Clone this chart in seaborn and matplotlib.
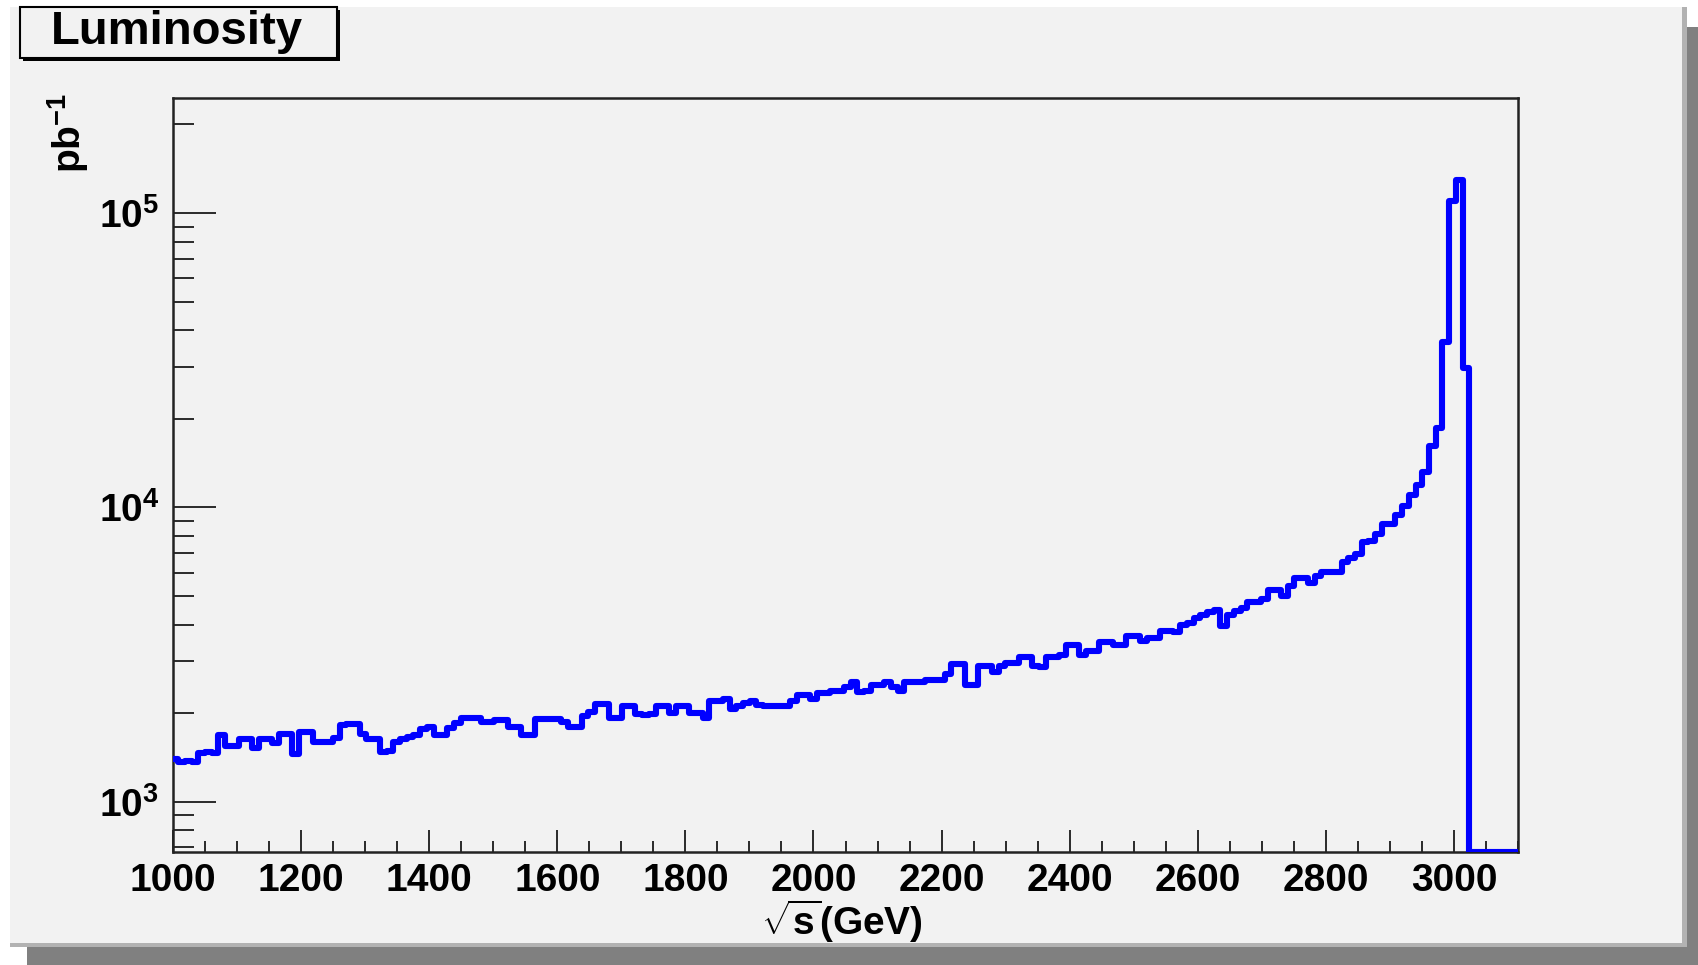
import numpy as np
import matplotlib
matplotlib.use("Agg")
import matplotlib.pyplot as plt
from matplotlib.patches import Rectangle
from matplotlib.ticker import FixedLocator, FixedFormatter, LogLocator, MultipleLocator, NullFormatter
import seaborn as sns

# ---- histogram definition -------------------------------------------------
bin_width = 10.5          # GeV
first_edge = 997.5        # GeV, lower edge of the first bin
# integrated luminosity per bin (pb^-1)
lumi = [
    1400, 1370, 1380, 1370, 1470, 1480, 1470, 1680, 1550, 1550,
    1640, 1640, 1520, 1640, 1640, 1580, 1700, 1700, 1450, 1720,
    1720, 1590, 1590, 1600, 1650, 1830, 1840, 1840, 1700, 1640,
    1640, 1480, 1490, 1590, 1640, 1660, 1680, 1760, 1800, 1680,
    1680, 1780, 1850, 1920, 1920, 1920, 1870, 1870, 1890, 1890,
    1790, 1800, 1680, 1690, 1910, 1910, 1910, 1910, 1860, 1800,
    1800, 1950, 2025, 2150, 2150, 1930, 1930, 2110, 2110, 1990,
    1970, 1990, 2110, 2110, 2010, 2110, 2110, 2010, 2010, 1930,
    2200, 2200, 2240, 2060, 2120, 2170, 2200, 2140, 2110, 2110,
    2110, 2110, 2200, 2300, 2300, 2240, 2340, 2340, 2380, 2380,
    2450, 2560, 2360, 2370, 2500, 2500, 2550, 2450, 2380, 2560,
    2560, 2560, 2600, 2600, 2600, 2720, 2935, 2935, 2500, 2500,
    2890, 2890, 2770, 2890, 2970, 2970, 3100, 3100, 2890, 2870,
    3100, 3100, 3160, 3420, 3420, 3140, 3240, 3240, 3500, 3500,
    3420, 3420, 3660, 3660, 3530, 3600, 3600, 3810, 3810, 3760,
    4000, 4050, 4200, 4300, 4400, 4490, 3970, 4320, 4460, 4550,
    4760, 4760, 4890, 5250, 5250, 5020, 5400, 5750, 5750, 5550,
    5840, 6050, 6050, 6050, 6550, 6720, 6960, 7600, 7700, 8150,
    8750, 8800, 9390, 10150, 10980, 11870, 13180, 16230, 18630, 36400,
    109500, 130000, 29800, 0, 0, 0, 0, 0, 0, 0,
    0,
]

x_major = [1000, 1200, 1400, 1600, 1800, 2000, 2200, 2400, 2600, 2800, 3000]
y_major = [1e3, 1e4, 1e5]
y_major_labels = [r"$\mathbf{10^{3}}$", r"$\mathbf{10^{4}}$", r"$\mathbf{10^{5}}$"]

x_range = (1000, 3100)
y_range = (675, 2.46e5)

# ---- style ---------------------------------------------------------------
sns.set_theme(style="ticks")
plt.rcParams["font.family"] = ["Liberation Sans", "DejaVu Sans"]
plt.rcParams["font.weight"] = "bold"
plt.rcParams["text.color"] = "black"
plt.rcParams["axes.labelcolor"] = "black"
plt.rcParams["xtick.color"] = "black"
plt.rcParams["ytick.color"] = "black"
plt.rcParams["mathtext.fontset"] = "custom"
plt.rcParams["mathtext.rm"] = "Liberation Sans:bold"
plt.rcParams["mathtext.bf"] = "Liberation Sans:bold"
plt.rcParams["mathtext.it"] = "Liberation Sans:bold"

W, H = 1698, 965
fig = plt.figure(figsize=(W / 100, H / 100), dpi=100, facecolor="white")


def fx(px):
    return px / W


def fy(py):
    return 1 - py / H


# canvas: grey panel with a drop shadow
fig.patches.append(Rectangle((fx(27), 0), fx(W - 27), 1 - 27 / H, transform=fig.transFigure,
                             facecolor="#808080", edgecolor="none", zorder=-10))
fig.patches.append(Rectangle((fx(10), fy(947)), fx(1677), 940 / H, transform=fig.transFigure,
                             facecolor="#b2b2b2", edgecolor="none", zorder=-9))
fig.patches.append(Rectangle((fx(10), fy(943)), fx(1672), 936 / H, transform=fig.transFigure,
                             facecolor="#f2f2f2", edgecolor="none", zorder=-8))

ax = fig.add_axes([fx(173), fy(852), fx(1518 - 173), (852 - 98) / H])
ax.set_facecolor("#f2f2f2")
ax.set_yscale("log")

edges = first_edge + bin_width * np.arange(len(lumi) + 1)
# empty bins are drawn along the lower frame edge
heights = np.maximum(np.asarray(lumi, dtype=float), y_range[0])
step_y = np.append(heights, heights[-1])

sns.lineplot(x=edges, y=step_y, drawstyle="steps-post", estimator=None, sort=False,
             color="#0000ff", linewidth=4.4, ax=ax, zorder=3)

ax.set_xlim(*x_range)
ax.set_ylim(*y_range)
ax.set_ylabel("")
ax.set_xlabel("")

ax.xaxis.set_major_locator(FixedLocator(x_major))
ax.xaxis.set_minor_locator(MultipleLocator(50))
ax.yaxis.set_major_locator(FixedLocator(y_major))
ax.yaxis.set_major_formatter(FixedFormatter(y_major_labels))
ax.yaxis.set_minor_locator(LogLocator(base=10, subs=np.arange(2, 10)))
ax.yaxis.set_minor_formatter(NullFormatter())

tick_color = "#1a1a1a"
ax.tick_params(axis="y", which="major", direction="in", length=31, width=1.3,
               pad=10, labelsize=28, color=tick_color, labelcolor="black")
ax.tick_params(axis="y", which="minor", direction="in", length=15, width=1.3, color=tick_color)
ax.tick_params(axis="x", which="major", direction="in", length=16, width=1.3,
               pad=8, labelsize=28, color=tick_color, labelcolor="black")
ax.tick_params(axis="x", which="minor", direction="in", length=8, width=1.3, color=tick_color)
for lab in ax.get_xticklabels() + ax.get_yticklabels():
    lab.set_fontweight("bold")

for sp in ax.spines.values():
    sp.set_visible(True)
    sp.set_color("#222222")
    sp.set_linewidth(1.8)

# axis titles
ax.text(0.497, -0.060, r"$\mathbf{\sqrt{s}(GeV)}$", transform=ax.transAxes,
        ha="center", va="top", fontsize=28, color="black")
fig.text(fx(68), fy(93), r"$\mathbf{pb^{-1}}$", rotation=90, ha="center", va="top",
         fontsize=28, color="black")

# title box with shadow
fig.patches.append(Rectangle((fx(23), fy(61)), fx(317), 51 / H, transform=fig.transFigure,
                             facecolor="black", edgecolor="none", zorder=5))
fig.patches.append(Rectangle((fx(20), fy(58)), fx(317), 51 / H, transform=fig.transFigure,
                             facecolor="#f2f2f2", edgecolor="black", linewidth=1.5, zorder=6))
fig.text(fx(177), fy(44), "Luminosity", ha="center", va="baseline", fontsize=34,
         fontweight="bold", color="black", zorder=7)

fig.savefig("out.png", dpi=100, facecolor=fig.get_facecolor())
